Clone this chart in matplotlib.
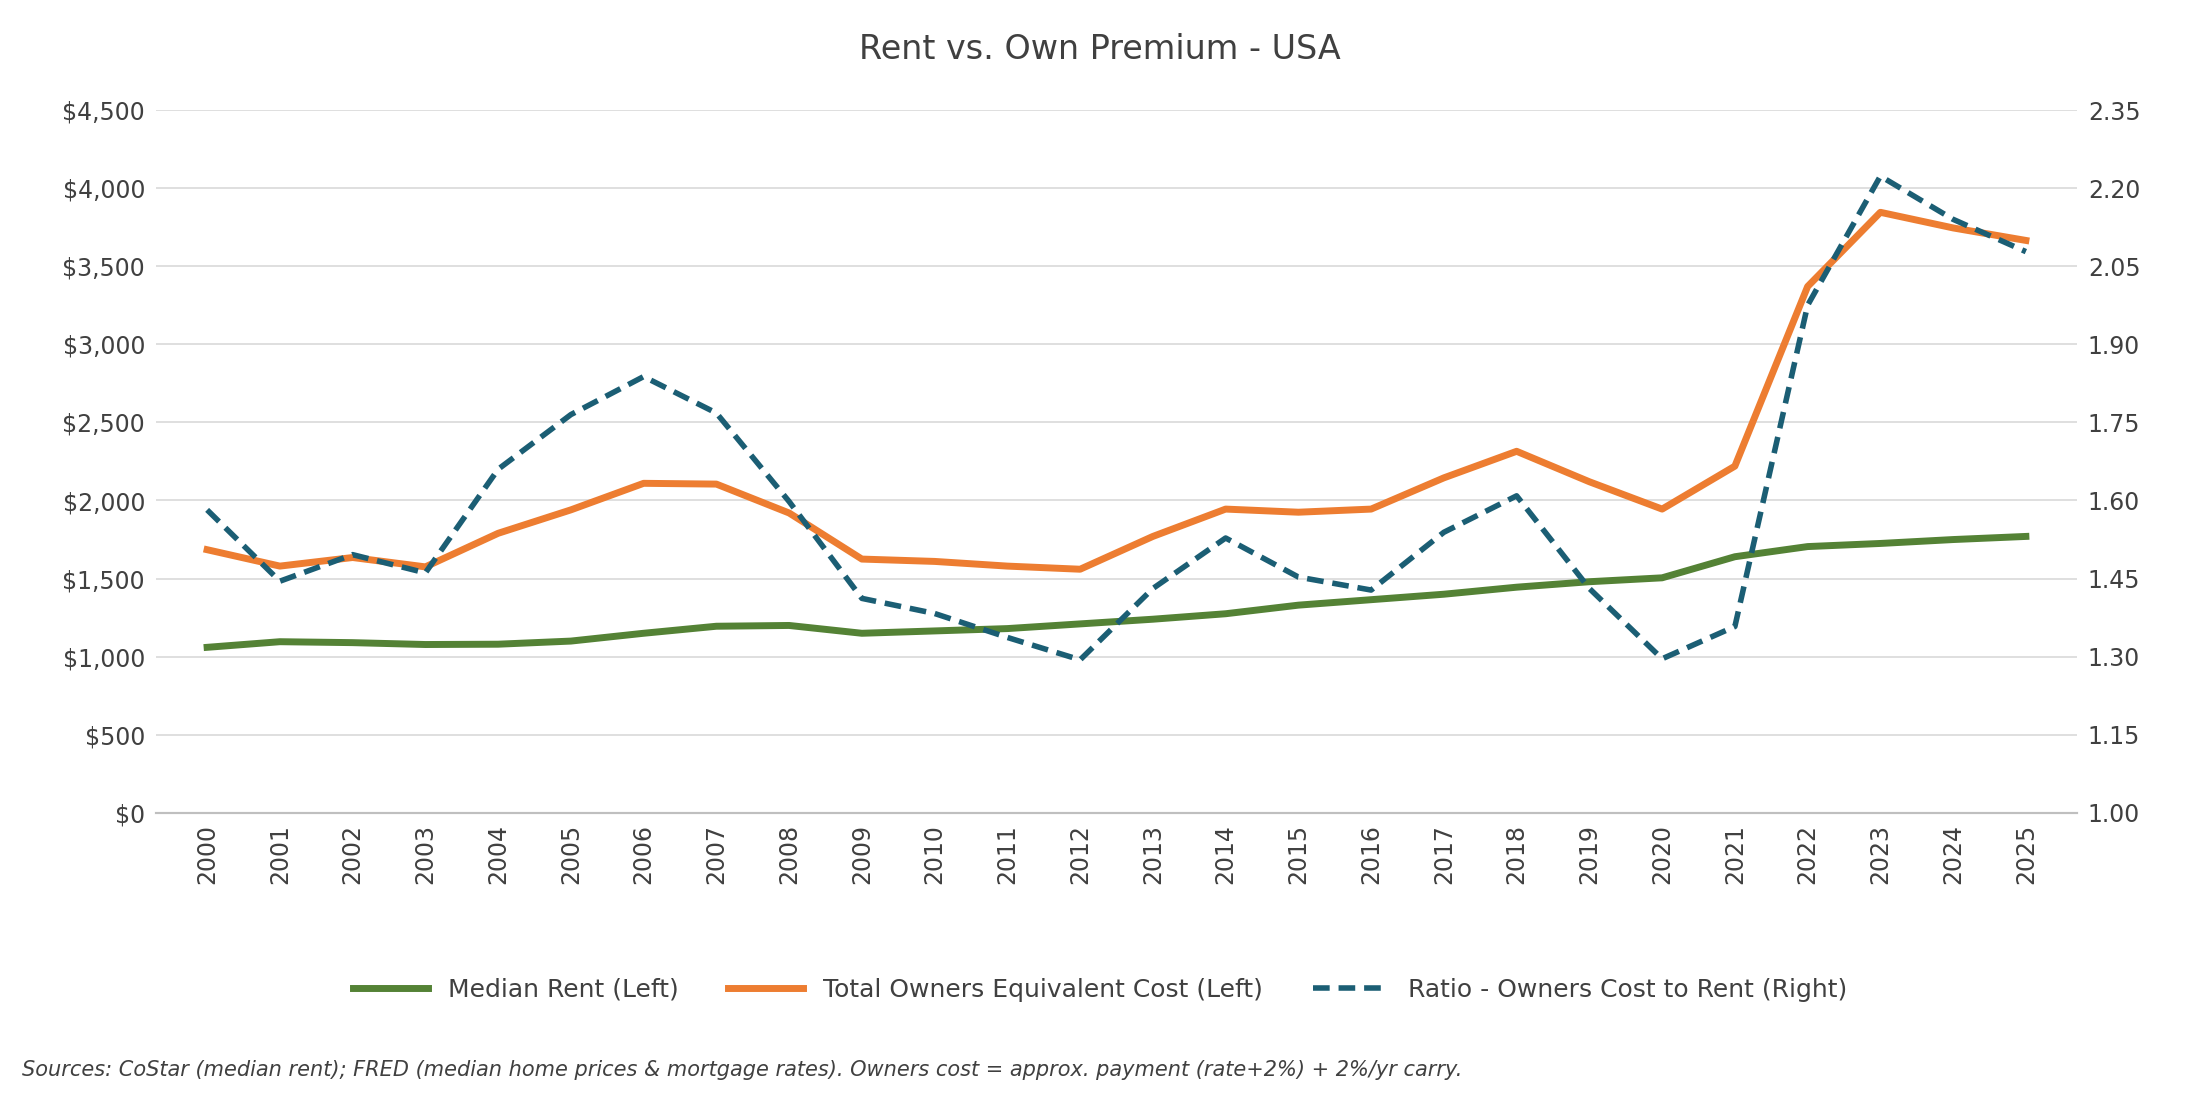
import matplotlib.pyplot as plt
from matplotlib.ticker import FuncFormatter

years = [str(y) for y in range(2000, 2026)]
median_rent = [1060, 1096, 1090, 1078, 1080, 1100, 1150, 1195, 1200, 1150, 1165, 1180,
               1210, 1240, 1275, 1330, 1365, 1400, 1445, 1480, 1505, 1640, 1705, 1725,
               1750, 1770]
owners_cost = [1685, 1580, 1635, 1575, 1790, 1940, 2110, 2105, 1920, 1625, 1610, 1580,
               1560, 1770, 1945, 1925, 1945, 2145, 2315, 2120, 1945, 2220, 3370, 3845,
               3745, 3665]
ratio = [1.582, 1.445, 1.496, 1.461, 1.66, 1.765, 1.838, 1.768, 1.598, 1.412, 1.383,
         1.337, 1.294, 1.431, 1.528, 1.453, 1.428, 1.539, 1.609, 1.431, 1.296, 1.358,
         1.975, 2.223, 2.14, 2.078]

txt = '#404040'
fig = plt.figure(figsize=(22, 11), dpi=100)
ax = fig.add_axes([0.071, 0.261, 0.873, 0.639])
ax2 = ax.twinx()
x = range(len(years))

l1, = ax.plot(x, median_rent, color='#548235', lw=5, label='Median Rent (Left)')
l2, = ax.plot(x, owners_cost, color='#ED7D31', lw=5, label='Total Owners Equivalent Cost (Left)')
l3, = ax2.plot(x, ratio, color='#1B5E74', lw=4, ls=(0, (3, 1.6)),
               label='Ratio - Owners Cost to Rent (Right)')

ax.set_ylim(0, 4500)
ax.set_yticks(range(0, 4501, 500))
ax.yaxis.set_major_formatter(FuncFormatter(lambda v, p: f'${v:,.0f}'))
ax2.set_ylim(1.0, 2.35)
ax2.set_yticks([1.0 + 0.15 * i for i in range(10)])
ax2.yaxis.set_major_formatter(FuncFormatter(lambda v, p: f'{v:.2f}'))
ax.set_xlim(-0.7, len(years) - 0.3)
ax.set_xticks(list(x))
ax.set_xticklabels(years, rotation=90)

ax.grid(axis='y', color='#d9d9d9', lw=1.2)
ax.set_axisbelow(True)
for a in (ax, ax2):
    for s in ('top', 'left', 'right'):
        a.spines[s].set_visible(False)
    a.spines['bottom'].set_color('#bfbfbf')
    a.spines['bottom'].set_linewidth(1.5)
    a.tick_params(length=0, labelsize=17, colors=txt, pad=8)

fig.suptitle('Rent vs. Own Premium - USA', fontsize=24, color=txt, y=0.97)
fig.legend(handles=[l1, l2, l3], loc='center', bbox_to_anchor=(0.5, 0.1), ncol=3,
           frameon=False, fontsize=18, labelcolor=txt, handlelength=3, columnspacing=2)
fig.text(0.01, 0.022, 'Sources: CoStar (median rent); FRED (median home prices & mortgage rates). '
         'Owners cost = approx. payment (rate+2%) + 2%/yr carry.',
         fontsize=15, style='italic', color=txt)

fig.savefig('out.png')
